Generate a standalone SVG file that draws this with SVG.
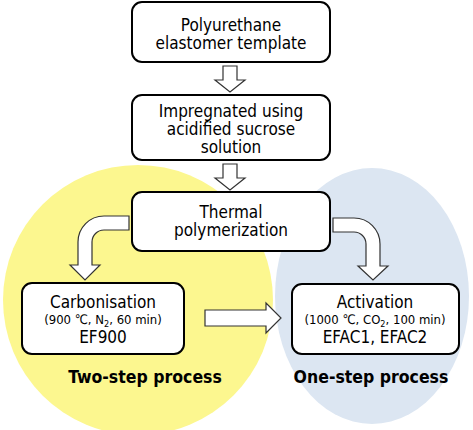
<svg xmlns="http://www.w3.org/2000/svg" width="473" height="430" viewBox="0 0 473 430">
<style>
.box{fill:#fff;stroke:#000;stroke-width:2}
.arr{fill:#fff;stroke:#333;stroke-width:1.2;stroke-linejoin:miter}
text{font-family:"DejaVu Sans Condensed","DejaVu Sans",sans-serif;font-stretch:condensed;text-anchor:middle;fill:#000}
.t{font-size:17px}
.s{font-size:13px}
.b{font-size:17.5px;font-weight:bold}
</style>
<rect width="473" height="430" fill="#fff"/>
<g id="regions">
<circle id="two-step-region" cx="138" cy="300" r="135" fill="#FCF78F"/>
<ellipse id="one-step-region" cx="372" cy="296" rx="97" ry="128" fill="#DCE6F2"/>
</g>
<g id="connectors">
<path class="arr" d="M223,66 H237 V80 H245 L230,92 L215,80 H223 Z"/>
<path class="arr" d="M223,164 H237 V178 H245 L230,190 L215,178 H223 Z"/>
<path class="arr" d="M129,216 H104 A26,26 0 0 0 78,242 V265 H70 L85,280 L100,265 H92 V242 A12,12 0 0 1 104,230 H129 Z"/>
<path class="arr" d="M333,218 H354 A26,26 0 0 1 380,244 V266 H388 L373,280 L358,266 H366 V244 A12,12 0 0 0 354,232 H333 Z"/>
<path class="arr" d="M205,310 H266 V303 L281,318 L266,333 V326 H205 Z"/>
</g>
<g id="n1">
<rect class="box" x="132" y="2" width="198" height="60" rx="10"/>
<text class="t" x="231" y="31">Polyurethane</text>
<text class="t" x="231" y="49">elastomer template</text>
</g>
<g id="n2">
<rect class="box" x="132" y="95" width="198" height="65" rx="10"/>
<text class="t" x="231" y="117">Impregnated using</text>
<text class="t" x="231" y="135">acidified sucrose</text>
<text class="t" x="231" y="153">solution</text>
</g>
<g id="n3">
<rect class="box" x="132" y="192" width="198" height="59" rx="10"/>
<text class="t" x="231" y="218">Thermal</text>
<text class="t" x="231" y="236">polymerization</text>
</g>
<g id="n4">
<rect class="box" x="22" y="283" width="162" height="71" rx="10"/>
<text class="t" x="103" y="308">Carbonisation</text>
<text class="s" x="103" y="324">(900 ℃, N<tspan font-size="9" dy="3">2</tspan><tspan dy="-3">, 60 min)</tspan></text>
<text class="t" x="103" y="343">EF900</text>
</g>
<g id="n5">
<rect class="box" x="292" y="284" width="167" height="70" rx="10"/>
<text class="t" x="375" y="308">Activation</text>
<text class="s" x="375" y="324">(1000 ℃, CO<tspan font-size="9" dy="3">2</tspan><tspan dy="-3">, 100 min)</tspan></text>
<text class="t" x="375" y="343">EFAC1, EFAC2</text>
</g>
<g id="labels">
<text class="b" x="145" y="383">Two-step process</text>
<text class="b" x="371" y="383">One-step process</text>
</g>
</svg>
